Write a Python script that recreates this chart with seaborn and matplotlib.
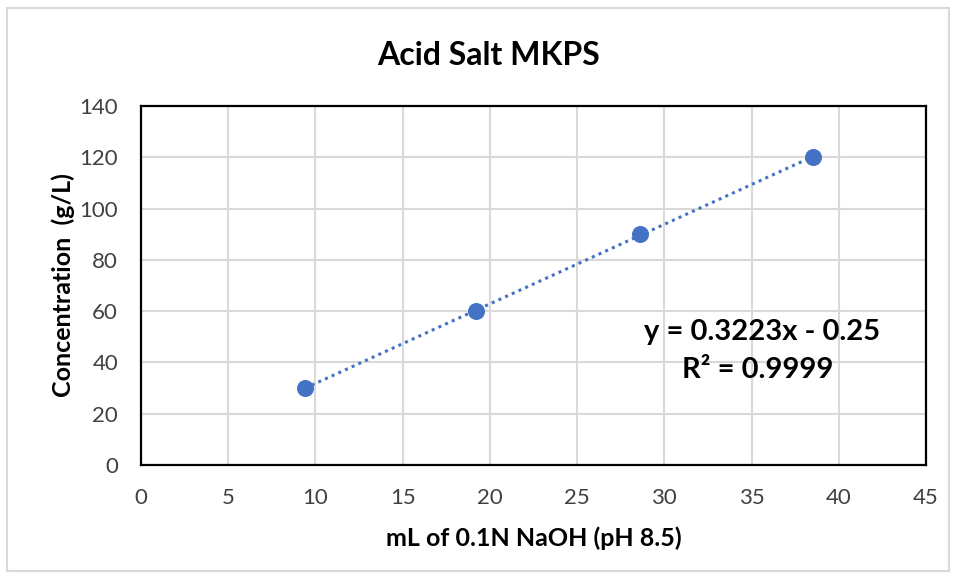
import matplotlib
matplotlib.use("Agg")
import matplotlib.pyplot as plt
import seaborn as sns
import pandas as pd
from matplotlib.patches import Rectangle

# Data
naoh_ml = [9.4, 19.2, 28.6, 38.5]
concentration = [30, 60, 90, 120]
x_ticks = [0, 5, 10, 15, 20, 25, 30, 35, 40, 45]
y_ticks = [0, 20, 40, 60, 80, 100, 120, 140]
title = "Acid Salt MKPS"
x_label = "mL of 0.1N NaOH (pH 8.5)"
y_label = "Concentration  (g/L)"
eq_text = "y = 0.3223x - 0.25"
r2_text = "R² = 0.9999"

sns.set_theme(style="white")
plt.rcParams['font.family'] = ['Lato', 'DejaVu Sans']

df = pd.DataFrame({"x": naoh_ml, "y": concentration})

fig = plt.figure(figsize=(9.56, 5.80), dpi=100)
ax = fig.add_axes([0.1475, 0.1983, 0.8211, 0.619])

blue = "#4472C4"
sns.regplot(data=df, x="x", y="y", ax=ax, ci=None, truncate=True,
            scatter_kws=dict(s=150, color=blue, edgecolor=blue, linewidths=0, alpha=1, zorder=4),
            line_kws=dict(color=blue, linestyle=(0, (1, 1.4)), linewidth=2.2, zorder=3))

ax.set_xlim(0, 45)
ax.set_ylim(0, 140)
ax.set_xticks(x_ticks)
ax.set_yticks(y_ticks)
ax.tick_params(axis='both', length=0, labelsize=16, colors="#404040")
ax.tick_params(axis='x', pad=16.5)
ax.tick_params(axis='y', pad=16.5)
ax.grid(True, color="#d9d9d9", linewidth=1.5)
ax.set_axisbelow(True)
for sp in ax.spines.values():
    sp.set_visible(True)
    sp.set_color("black")
    sp.set_linewidth(1.6)

ax.set_xlabel(x_label, fontsize=18, fontweight='bold', color="black", labelpad=13.5)
ax.set_ylabel(y_label, fontsize=18, fontweight='bold', color="black", labelpad=3)

fig.text(0.511, 0.905, title, ha='center', va='center', fontsize=23, fontweight='bold', color="black")

ax.text(0.797, 0.427, eq_text, transform=fig.transFigure, ha='center', va='center',
        fontsize=21, fontweight='bold', color="black")
ax.text(0.793, 0.362, r2_text, transform=fig.transFigure, ha='center', va='center',
        fontsize=21, fontweight='bold', color="black")

fig.patches.append(Rectangle((7 / 956, 9 / 580), 942 / 956, 563 / 580, transform=fig.transFigure,
                             fill=False, edgecolor="#d9d9d9", linewidth=1.5))

fig.savefig("out.png", dpi=100, facecolor="white")
